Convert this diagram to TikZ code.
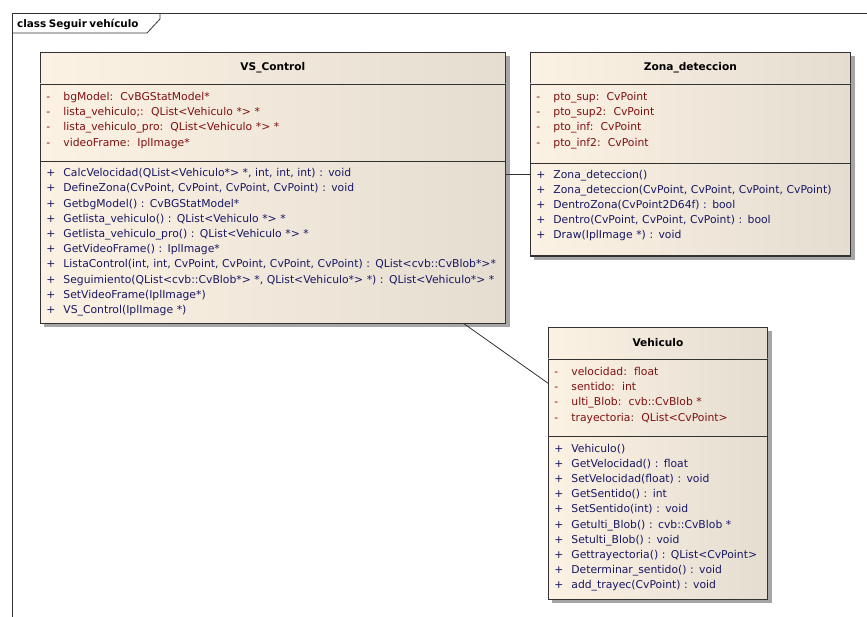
\documentclass[tikz,border=0pt]{standalone}
\usepackage{fontspec}
\setmainfont{DejaVu Sans}[WordSpace=0.7]
\usetikzlibrary{positioning,shadows}

\definecolor{attrred}{RGB}{128,16,16}
\definecolor{opblue}{RGB}{24,24,100}
\definecolor{paperlt}{RGB}{252,242,228}
\definecolor{paperdk}{RGB}{228,221,208}
\definecolor{edge}{RGB}{50,50,50}

% one compartment line: visibility sign, then member
\newcommand{\umlrow}[2]{\makebox[17pt][l]{#1}\mbox{#2}\\}

\begin{document}
\begin{tikzpicture}[x=1pt, y=-1pt,
  cls/.style={draw=edge, inner sep=0pt, anchor=north west, row sep=0pt,
    drop shadow={shadow xshift=4pt, shadow yshift=-4pt, fill=black!35, opacity=1}},
  part/.style={draw=edge, left color=paperlt, right color=paperdk, inner sep=0pt},
  hdr/.style={part, font=\fontsize{10.6}{12}\selectfont\bfseries, minimum height=31pt},
  attrs/.style={part, text=attrred, align=left, inner xsep=6pt, inner ysep=8.5pt,
    font=\fontsize{10.8}{15.2}\selectfont},
  ops/.style={part, text=opblue, align=left, inner xsep=6pt, inner ysep=6pt,
    font=\fontsize{10.8}{15.2}\selectfont},
  assoc/.style={edge, line width=0.8pt}
]
  \useasboundingbox (0,0) rectangle (867,617);

  %% -- Frame ------------------------------------------------------------------
  \draw[edge, line width=1pt] (12,617) -- (12,14) -- (867,14);
  \node[font=\fontsize{10.4}{12}\selectfont\bfseries, anchor=west, inner sep=0pt]
    (ttl) at (17,24) {class Seguir vehículo};
  \draw[edge, line width=0.8pt] (12,33) -- (147,33) -- (160,19) -- (160,14);

  %% -- VS_Control -------------------------------------------------------------
  \matrix[cls] (vs) at (40,52) {
    \node[hdr, minimum width=465pt] (vs-h) {VS\_Control}; \\
    \node[attrs, text width=453pt, minimum height=75pt] (vs-a) {%
      \umlrow{-}{bgModel:\ \ CvBGStatModel*}
      \umlrow{-}{lista\_vehiculo;:\ \ QList<Vehiculo *> *}
      \umlrow{-}{lista\_vehiculo\_pro:\ \ QList<Vehiculo *> *}
      \umlrow{-}{videoFrame:\ \ IplImage*}
      \vspace*{4pt}}; \\
    \node[ops, text width=453pt, minimum height=162pt] (vs-o) {%
      \umlrow{+}{CalcVelocidad(QList<Vehiculo*> *, int, int, int) : void}
      \umlrow{+}{DefineZona(CvPoint, CvPoint, CvPoint, CvPoint) : void}
      \umlrow{+}{GetbgModel() : CvBGStatModel*}
      \umlrow{+}{Getlista\_vehiculo() : QList<Vehiculo *> *}
      \umlrow{+}{Getlista\_vehiculo\_pro() : QList<Vehiculo *> *}
      \umlrow{+}{GetVideoFrame() : IplImage*}
      \umlrow{+}{ListaControl(int, int, CvPoint, CvPoint, CvPoint, CvPoint) : QList<cvb::CvBlob*>*}
      \umlrow{+}{Seguimiento(QList<cvb::CvBlob*> *, QList<Vehiculo*> *) : QList<Vehiculo*> *}
      \umlrow{+}{SetVideoFrame(IplImage*)}
      \umlrow{+}{VS\_Control(IplImage *)}}; \\
  };

  %% -- Zona_deteccion ---------------------------------------------------------
  \matrix[cls] (zona) at (530,52) {
    \node[hdr, minimum width=320pt] (zona-h) {Zona\_deteccion}; \\
    \node[attrs, text width=308pt, minimum height=77pt] (zona-a) {%
      \umlrow{-}{pto\_sup:\ \ CvPoint}
      \umlrow{-}{pto\_sup2:\ \ CvPoint}
      \umlrow{-}{pto\_inf:\ \ CvPoint}
      \umlrow{-}{pto\_inf2:\ \ CvPoint}
      \vspace*{6pt}}; \\
    \node[ops, text width=308pt, minimum height=92pt] (zona-o) {%
      \umlrow{+}{Zona\_deteccion()}
      \umlrow{+}{Zona\_deteccion(CvPoint, CvPoint, CvPoint, CvPoint)}
      \umlrow{+}{DentroZona(CvPoint2D64f) : bool}
      \umlrow{+}{Dentro(CvPoint, CvPoint, CvPoint) : bool}
      \umlrow{+}{Draw(IplImage *) : void}
      \vspace*{8pt}}; \\
  };

  %% -- Vehiculo ---------------------------------------------------------------
  \matrix[cls] (veh) at (548,327) {
    \node[hdr, minimum width=219pt] (veh-h) {Vehiculo}; \\
    \node[attrs, text width=207pt, minimum height=75pt] (veh-a) {%
      \umlrow{-}{velocidad:\ \ float}
      \umlrow{-}{sentido:\ \ int}
      \umlrow{-}{ulti\_Blob:\ \ cvb::CvBlob *}
      \umlrow{-}{trayectoria:\ \ QList<CvPoint>}
      \vspace*{4pt}}; \\
    \node[ops, text width=207pt, minimum height=163pt] (veh-o) {%
      \umlrow{+}{Vehiculo()}
      \umlrow{+}{GetVelocidad() : float}
      \umlrow{+}{SetVelocidad(float) : void}
      \umlrow{+}{GetSentido() : int}
      \umlrow{+}{SetSentido(int) : void}
      \umlrow{+}{Getulti\_Blob() : cvb::CvBlob *}
      \umlrow{+}{Setulti\_Blob() : void}
      \umlrow{+}{Gettrayectoria() : QList<CvPoint>}
      \umlrow{+}{Determinar\_sentido() : void}
      \umlrow{+}{add\_trayec(CvPoint) : void}}; \\
  };

  %% -- Associations -----------------------------------------------------------
  % VS_Control -- Zona_deteccion
  \draw[assoc] ([yshift=-13pt]vs-o.north east) -- ([yshift=-13pt]vs-o.north east -| zona-o.west);
  % VS_Control -- Vehiculo
  \draw[assoc] ([xshift=-42pt]vs-o.south east) -- ([yshift=14pt]veh-a.west);
\end{tikzpicture}
\end{document}
